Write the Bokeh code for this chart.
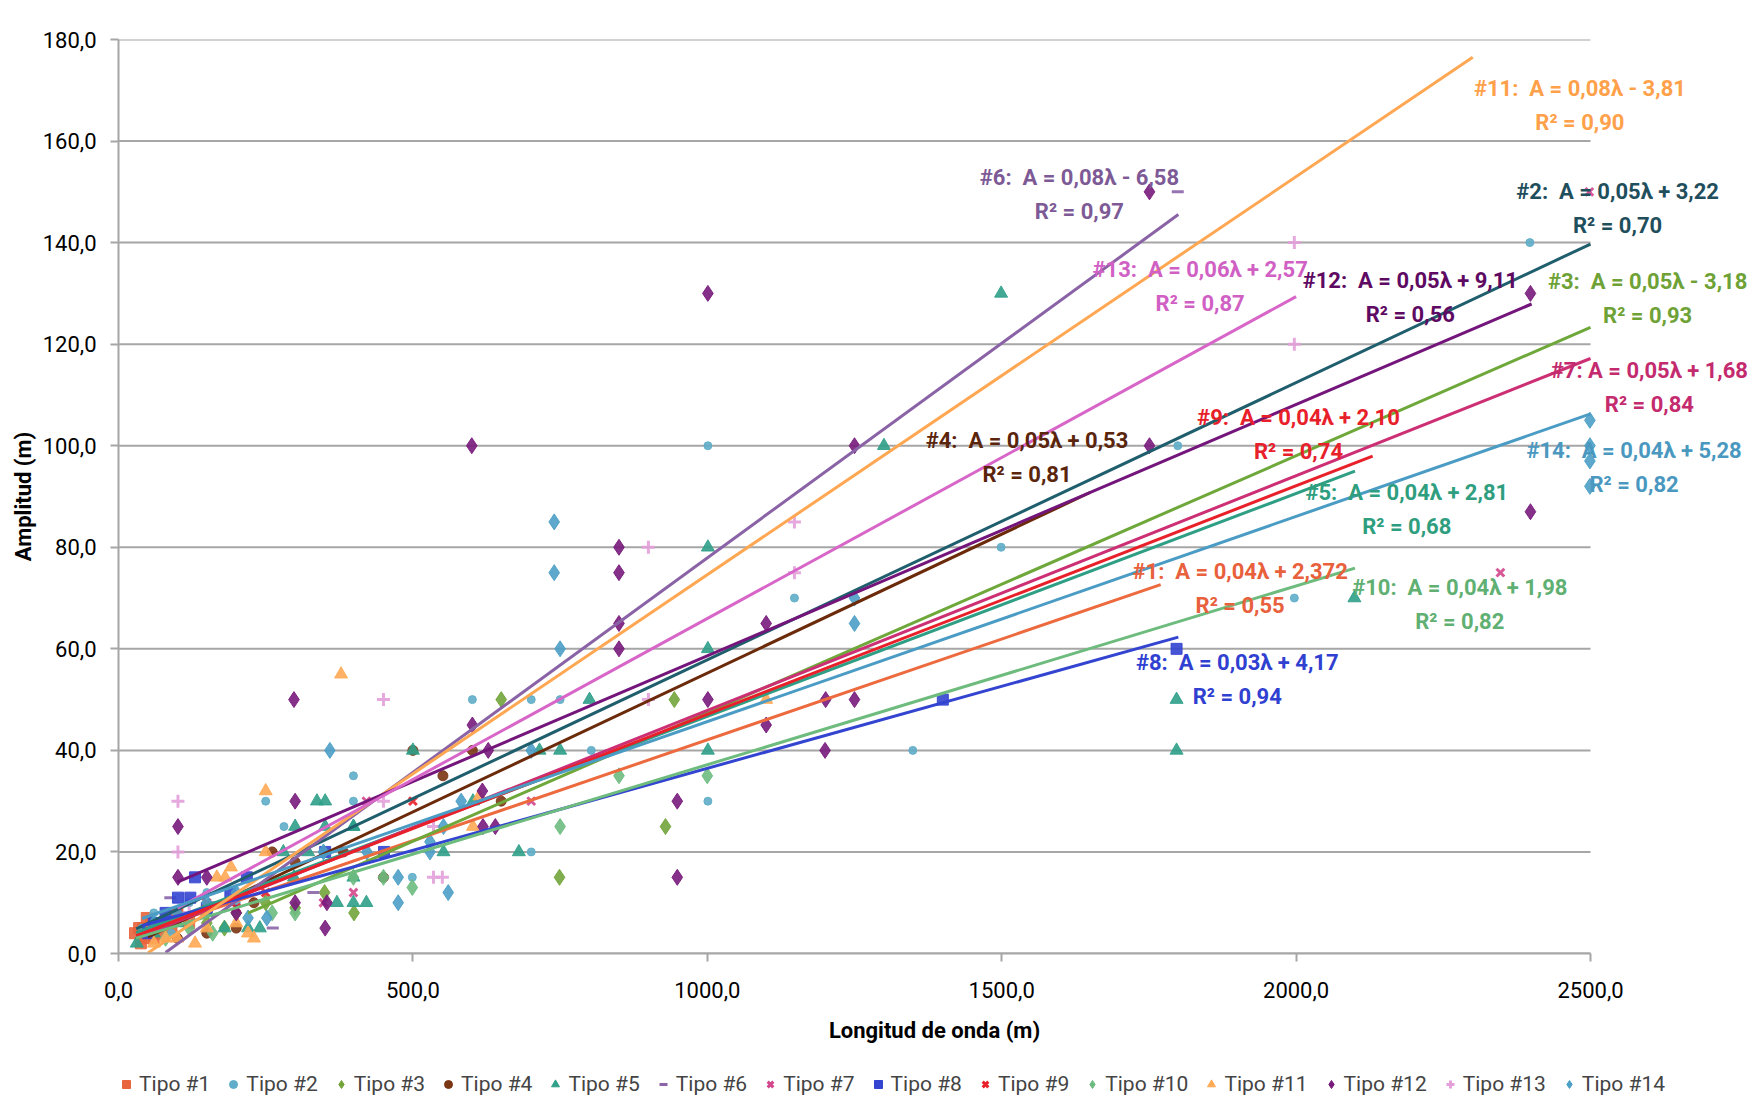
from bokeh.plotting import figure
from bokeh.layouts import column
from bokeh.models import (Label, Legend, LegendItem, CustomJSTickFormatter,
                          FixedTicker, Range1d, ColumnDataSource)
from bokeh.embed import file_html
from bokeh.resources import INLINE

# ---------------- data ----------------
x_ticks = [0, 500, 1000, 1500, 2000, 2500]
y_ticks = [0, 20, 40, 60, 80, 100, 120, 140, 160, 180]

names = ["Tipo #1", "Tipo #2", "Tipo #3", "Tipo #4", "Tipo #5", "Tipo #6", "Tipo #7",
         "Tipo #8", "Tipo #9", "Tipo #10", "Tipo #11", "Tipo #12", "Tipo #13", "Tipo #14"]

t1_x = [28, 35, 42, 48, 55, 60, 70, 80, 90, 100, 120, 45, 38]
t1_y = [4, 5, 5, 7, 6, 3, 4, 6, 5, 8, 6, 3, 2]
t2_x = [1001, 2397, 1499, 1997, 1349, 1001, 1148, 601, 701, 750, 803, 399, 399, 250, 281,
        701, 1799, 499, 40, 60, 80, 120, 150, 200, 90]
t2_y = [100, 140, 80, 70, 40, 30, 70, 50, 50, 50, 40, 35, 30, 30, 25,
        20, 100, 15, 5, 8, 7, 10, 12, 10, 4]
t3_x = [650, 944, 929, 749, 150, 200, 250, 300, 350, 180, 400]
t3_y = [50, 50, 25, 15, 6, 8, 10, 9, 12, 5, 8]
t4_x = [500, 551, 650, 601, 261, 382, 230, 200, 150, 100, 300, 450]
t4_y = [40, 35, 30, 40, 20, 20, 10, 5, 4, 3, 18, 15]
t5_x = [1499, 1300, 1001, 1001, 1797, 1797, 2099, 1001, 800, 750, 715, 500, 337, 351,
        300, 351, 399, 280, 322, 552, 680, 602, 399, 371, 399, 421, 240, 220, 31, 399,
        298, 60, 100, 150, 180]
t5_y = [130, 100, 80, 60, 50, 40, 70, 40, 50, 40, 40, 40, 30, 30,
        25, 25, 25, 20, 20, 20, 20, 30, 25, 10, 10, 10, 5, 5, 2, 15,
        15, 4, 6, 8, 5]
t6_x = [1799, 262, 331, 88, 120, 160]
t6_y = [150, 5, 12, 11, 8, 10]
t7_x = [2498, 2347, 421, 701, 399, 348, 60, 100]
t7_y = [150, 75, 30, 30, 12, 10, 6, 8]
t8_x = [1797, 1400, 351, 451, 130, 218, 101, 122, 80, 60, 150, 190, 50]
t8_y = [60, 50, 20, 20, 15, 15, 11, 11, 8, 6, 9, 12, 4]
t9_x = [500, 60, 100, 150, 200, 250]
t9_y = [30, 5, 8, 10, 9, 12]
t10_x = [1000, 850, 750, 499, 399, 300, 261, 80, 120, 160, 450]
t10_y = [35, 35, 25, 13, 15, 8, 8, 3, 5, 4, 15]
t11_x = [378, 250, 1100, 602, 613, 250, 167, 181, 191, 60, 80, 100, 130, 150, 200, 220, 230]
t11_y = [55, 32, 50, 25, 31, 20, 15, 15, 17, 2, 3, 3, 2, 5, 6, 4, 3]
t12_x = [1001, 600, 1751, 1751, 2398, 2398, 1250, 850, 850, 850, 850, 1100, 1001, 1250,
         298, 601, 628, 618, 949, 949, 300, 101, 101, 351, 1100, 1200, 1201, 619, 640,
         150, 300, 354, 200]
t12_y = [130, 100, 150, 100, 130, 87, 100, 80, 75, 65, 60, 65, 50, 50,
         50, 45, 40, 32, 30, 15, 30, 25, 15, 5, 45, 40, 50, 25, 25,
         15, 10, 10, 8]
t13_x = [1997, 1997, 1148, 1148, 900, 900, 450, 101, 101, 535, 535, 550, 450, 60, 120]
t13_y = [140, 120, 85, 75, 80, 50, 50, 30, 20, 25, 15, 15, 30, 5, 8]
t14_x = [740, 740, 750, 359, 1250, 1250, 2499, 2499, 2499, 2499, 701, 582, 552, 529, 529,
         348, 422, 475, 560, 475, 252, 220, 60, 100, 150, 200]
t14_y = [85, 75, 60, 40, 70, 65, 105, 100, 97, 92, 40, 30, 25, 22, 20,
         20, 20, 15, 12, 10, 7, 7, 6, 8, 10, 12]

series_x = [t1_x, t2_x, t3_x, t4_x, t5_x, t6_x, t7_x, t8_x, t9_x, t10_x, t11_x, t12_x, t13_x, t14_x]
series_y = [t1_y, t2_y, t3_y, t4_y, t5_y, t6_y, t7_y, t8_y, t9_y, t10_y, t11_y, t12_y, t13_y, t14_y]

# trend lines (slope, intercept, x start, x end)
trend_slope = [0.0397, 0.0546, 0.0506, 0.0547, 0.0439, 0.0845, 0.0462,
               0.0323, 0.0450, 0.0352, 0.0784, 0.0495, 0.0634, 0.0404]
trend_icpt = [2.372, 3.22, -3.18, 0.53, 2.81, -6.58, 1.68,
              4.17, 2.10, 1.98, -3.81, 9.11, 2.57, 5.28]
trend_x0 = [30, 30, 220, 50, 30, 80, 35, 40, 30, 30, 50, 100, 100, 40]
trend_x1 = [1770, 2500, 2500, 1650, 2100, 1800, 2500, 1800, 2130, 2100, 2300, 2400, 2000, 2500]

SP = "\u00a0 "
eq_text = ["#1:" + SP + "A = 0,04\u03bb + 2,372", "#2:" + SP + "A = 0,05\u03bb + 3,22",
           "#3:" + SP + "A = 0,05\u03bb - 3,18", "#4:" + SP + "A = 0,05\u03bb + 0,53",
           "#5:" + SP + "A = 0,04\u03bb + 2,81", "#6:" + SP + "A = 0,08\u03bb - 6,58",
           "#7: A = 0,05\u03bb + 1,68", "#8:" + SP + "A = 0,03\u03bb + 4,17",
           "#9:" + SP + "A = 0,04\u03bb + 2,10", "#10:" + SP + "A = 0,04\u03bb + 1,98",
           "#11:" + SP + "A = 0,08\u03bb - 3,81", "#12:" + SP + "A = 0,05\u03bb + 9,11",
           "#13:" + SP + "A = 0,06\u03bb + 2,57", "#14:" + SP + "A = 0,04\u03bb + 5,28"]
r2_text = ["R\u00b2 = 0,55", "R\u00b2 = 0,70", "R\u00b2 = 0,93", "R\u00b2 = 0,81", "R\u00b2 = 0,68",
           "R\u00b2 = 0,97", "R\u00b2 = 0,84", "R\u00b2 = 0,94", "R\u00b2 = 0,74", "R\u00b2 = 0,82",
           "R\u00b2 = 0,90", "R\u00b2 = 0,56", "R\u00b2 = 0,87", "R\u00b2 = 0,82"]
# label anchor (centre of the equation line), data units
lab_x = [1905, 2546, 2597, 1543, 2188, 1632, 2600, 1900, 2004, 2278, 2482, 2194, 1837, 2574]
lab_y = [75.3, 150.0, 132.4, 101.1, 90.8, 152.9, 114.8, 57.3, 105.5, 72.0, 170.3, 132.6, 134.8, 99.1]

# ---------------- styles ----------------
marker_color = ["#E8643C", "#5FADC8", "#72A43A", "#7A3512", "#2FA08A", "#8B64A8", "#D2468C",
                "#3344D0", "#E8202A", "#6DBB80", "#FFAA55", "#781A7C", "#E3A0DA", "#4B9EC6"]
line_color = ["#EC6A3E", "#1F5E6C", "#6FA83A", "#6B2A0A", "#2E9E84", "#8A62A6", "#CC2F74",
              "#3344D0", "#E8202A", "#6DBB7D", "#FFA752", "#74157C", "#D865C8", "#4A9CC4"]
text_color = ["#E8603C", "#1F4E5C", "#6FA236", "#5A250C", "#2E9E7E", "#7D5A96", "#C42A6E",
              "#3040D0", "#E8202A", "#5FB072", "#FFA04A", "#5E0A62", "#D060C4", "#4A98C0"]
markers = ["square", "circle", "diamond", "circle", "triangle", "dash", "x",
           "square", "x", "diamond", "triangle", "diamond", "cross", "diamond"]
msize = [11, 8, 16, 10, 13, 12, 11, 11, 11, 16, 13, 16, 13, 16]

FONT = "Roboto"
W = 1750
LEFT, TOP = 118, 39
FRAME_H = 914
FRAME_W = 1472            # pixels spanning 0 .. 2500
H_MAIN = 1060
H_LEG = 40
x_end = 2500 * (W - LEFT) / FRAME_W   # frame runs to the right edge so labels are not clipped

fig = figure(width=W, height=H_MAIN, x_range=Range1d(0, x_end), y_range=Range1d(0, 180),
             output_backend="svg", toolbar_location=None,
             min_border_left=LEFT, min_border_right=0, min_border_top=TOP,
             min_border_bottom=H_MAIN - TOP - FRAME_H)
fig.outline_line_color = None
fig.background_fill_color = "white"
fig.border_fill_color = "white"

fig.grid.visible = False
# horizontal grid lines only across the 0..2500 data span
fig.segment(x0=[x_ticks[0]] * len(y_ticks), x1=[x_ticks[-1]] * len(y_ticks),
            y0=y_ticks, y1=y_ticks, line_color="#A6A6A6", line_width=2)

fmt = CustomJSTickFormatter(code="return tick.toFixed(1).replace('.', ',');")
for ax in (fig.xaxis[0], fig.yaxis[0]):
    ax.formatter = fmt
    ax.axis_line_color = "#A6A6A6"
    ax.axis_line_width = 2
    ax.major_tick_line_color = "#A6A6A6"
    ax.major_tick_line_width = 2
    ax.major_tick_out = 8
    ax.major_tick_in = 0
    ax.minor_tick_line_color = None
    ax.major_label_text_font = FONT
    ax.major_label_text_font_size = "22px"
    ax.major_label_text_color = "black"
    ax.axis_label_text_font = FONT
    ax.axis_label_text_font_size = "22px"
    ax.axis_label_text_font_style = "bold"
    ax.axis_label_text_color = "black"
fig.xaxis.ticker = FixedTicker(ticks=x_ticks)
fig.yaxis.ticker = FixedTicker(ticks=y_ticks)
fig.xaxis.bounds = (x_ticks[0], x_ticks[-1])
fig.xaxis.axis_label = "Longitud de onda (m)"
fig.yaxis.axis_label = "Amplitud (m)"
fig.xaxis.major_label_standoff = 20
fig.xaxis.axis_label_standoff = 17
fig.yaxis.major_label_standoff = 14
fig.yaxis.axis_label_standoff = 4

for i in range(14):
    src = ColumnDataSource(dict(x=series_x[i], y=series_y[i]))
    lw = 3 if markers[i] in ("x", "cross", "dash") else 1
    fig.scatter("x", "y", source=src, marker=markers[i], size=msize[i],
                fill_color=marker_color[i], line_color=marker_color[i], line_width=lw,
                fill_alpha=0.9, line_alpha=0.9)

for i in range(14):
    xs = [trend_x0[i], trend_x1[i]]
    ys = [trend_slope[i] * v + trend_icpt[i] for v in xs]
    fig.line(xs, ys, line_color=line_color[i], line_width=3)

for i in range(14):
    fig.add_layout(Label(x=lab_x[i], y=lab_y[i], text=eq_text[i], text_align="center",
                         text_baseline="middle", text_font=FONT, text_font_size="22px",
                         text_font_style="bold", text_color=text_color[i]))
    fig.add_layout(Label(x=lab_x[i], y=lab_y[i], y_offset=-34, text=r2_text[i], text_align="center",
                         text_baseline="middle", text_font=FONT, text_font_size="22px",
                         text_font_style="bold", text_color=text_color[i]))

# ---------------- legend strip ----------------
leg = figure(width=W, height=H_LEG, x_range=Range1d(0, 1), y_range=Range1d(0, 1),
             output_backend="svg", toolbar_location=None,
             x_axis_location=None, y_axis_location=None,
             min_border_left=0, min_border_right=0,
             min_border_top=0, min_border_bottom=0)
leg.outline_line_color = None
leg.grid.visible = False
leg.background_fill_color = "white"
leg.border_fill_color = "white"

items = []
for i in range(14):
    # same series; every point lies outside this strip's 0..1 ranges, only the legend glyph shows
    src = ColumnDataSource(dict(x=series_x[i], y=series_y[i]))
    lw = 3 if markers[i] in ("x", "cross", "dash") else 1
    r = leg.scatter("x", "y", source=src, marker=markers[i], size=msize[i],
                    fill_color=marker_color[i], line_color=marker_color[i], line_width=lw)
    items.append(LegendItem(label=names[i], renderers=[r]))

legend = Legend(items=items, orientation="horizontal", location=(-2, 4.5),
                border_line_color=None, background_fill_alpha=0,
                label_text_font=FONT, label_text_font_size="21px",
                glyph_width=20, glyph_height=22, label_standoff=3, spacing=13,
                margin=0, padding=3)
leg.add_layout(legend, "center")

p = column(fig, leg, spacing=0)
open("out.html", "w").write(file_html(p, INLINE))
